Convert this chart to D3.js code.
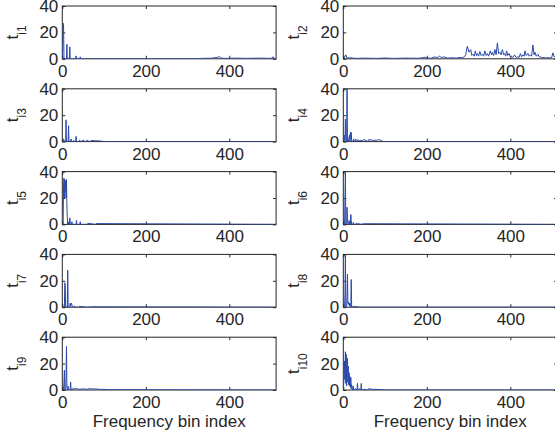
<!DOCTYPE html>
<html>
<head>
<meta charset="utf-8">
<script src="https://d3js.org/d3.v7.min.js"></script>
<style>
  body { margin: 0; background: #fff; }
  text { font-family: "Liberation Sans", Arial, Helvetica, sans-serif; fill: #262626; }
</style>
</head>
<body>
<script>
// Spectra for the 10 components, stored as (bin, value) points that the line passes through
var t1Bins = [0,1,2,3,4,10,11,12,17,18,19,32,33,34,42,43,44,300,360,368,372,375,378,382,390,420,440,470,500,505,508,511];
var t1Vals = [0,10,27,26,0,0,11,0,0,9,0,0,2.2,0,0,1.5,0,0,0.5,1,0.8,2,1,0.5,0.3,0.5,0.3,0.5,0.3,1.5,0,0];

var t2Bins = [0,3,6,9,15,30,50,80,100,120,150,180,190,195,200,210,220,225,230,235,240,250,260,270,280,285,290,293,297,301,305,308,311,314,316,319,321,324,327,330,333,336,339,342,345,348,352,355,357,360,363,366,369,372,375,378,381,384,386,389,391,394,397,400,402,406,410,414,418,421,424,427,430,433,435,438,442,445,448,451,454,457,459,462,466,469,472,476,482,486,490,495,499,502,505,508,511];
var t2Vals = [0.5,1,3,0.5,0.8,0.3,0.5,0.3,0.6,0.3,0.5,0.4,0.8,1.2,0.6,0.4,1.5,0.8,2,1,1.5,0.5,0.8,0.5,1,0.8,1.5,3,9.5,5,7,2.5,3.5,2,6,2.5,4,2,5.5,2.5,3.5,2,6,2.5,4,2,6,3,5,2.5,7,3,12,4,5,3,7,3,4,2,6,2.5,4,1.5,2,1,3,1,1.5,1,4,1.5,3,2,6,2.5,4,2,3,2,10.5,3,5,2,3.5,1.5,1.5,0.8,1,0.5,1,0.5,1,4.5,1.5,2,0.5];

var t3Bins = [0,3,5,8,9,10,14,15,16,20,21,22,26,27,28,32,33,34,40,41,45,50,55,60,65,70,80,90,100,511];
var t3Vals = [0,2,0,0,16.5,0,0,12,0,0,2,0,0,1,0,0,4,0,0,1,0,1,0,1,0,0.8,0.6,0.5,0,0];

var t4Bins = [0,2,4,5,6,8,9,10,12,15,16,17,18,19,20,22,25,26,30,31,35,36,40,45,50,60,61,70,80,85,90,95,511];
var t4Vals = [0,5,0,17,3,0,42,0,0,5,0,7,2,7,0,0,2,0,2,0,1.5,0,1,0.5,1.5,0,1.5,1,1,1.5,1,0,0];

var t5Bins = [0,2,3,4,5,6,7,8,9,10,11,12,13,14,15,17,18,19,22,23,24,33,34,35,42,43,44,60,61,80,81,511];
var t5Vals = [0,0,30,35,20,34,25,33,20,34,15,5,0,2,0,0,5,0,0,2,0,0,3,0,0,2,0,0,0.8,0,0.6,0];

var t6Bins = [0,3,4,5,6,8,9,10,11,13,14,15,17,18,19,20,23,24,25,30,31,35,36,40,50,511];
var t6Vals = [0,0,20,39,0,0,13,5,0,0,3,0,0,7.5,3,0,0,1.5,0,0,1,0,0.8,0,0.5,0];

var t7Bins = [0,5,6,7,8,10,12,13,14,16,18,19,20,22,23,24,28,29,30,40,41,50,60,70,511];
var t7Vals = [0,0,18.5,17,0,0,0,28,0,0,0,3,1,3,2,0,0,1,0,0,0.6,0.4,0,0.3,0];

var t8Bins = [0,3,4,5,6,8,9,10,11,12,13,14,15,16,17,18,19,20,22,25,26,30,40,511];
var t8Vals = [0,0,10,42,0,0,8,25,3,4,2,3,1,3,0,0,21,0,0,1,0,0.5,0,0];

var t9Bins = [0,3,4,5,6,8,9,10,11,13,14,15,19,20,21,25,26,30,35,40,50,60,65,70,80,90,100,110,511];
var t9Vals = [0,0,6,15,0,0,10,33,2,0,3,0,0,6,0,0,1.5,0.8,1,0.5,0.8,0.5,1.2,0.8,0.8,0.5,0.5,0.2,0];

var t10Bins = [0,2,3,4,5,6,7,8,9,10,11,12,13,14,15,16,17,18,19,20,22,23,24,25,28,33,34,35,38,42,43,44,50,60,61,70,80,90,100,511];
var t10Vals = [0,10,22,8,29,5,27,3,20,24,6,18,4,13,3,10,2,9.5,1,4,0,1,3,0,1,0,5,0,1,0,5,0,0.5,0,1,0.5,0.5,0.3,0,0];

var panelSubs = ["1","2","3","4","5","6","7","8","9","10"];
var panelBins = [t1Bins,t2Bins,t3Bins,t4Bins,t5Bins,t6Bins,t7Bins,t8Bins,t9Bins,t10Bins];
var panelVals = [t1Vals,t2Vals,t3Vals,t4Vals,t5Vals,t6Vals,t7Vals,t8Vals,t9Vals,t10Vals];

var xTicks = [0, 200, 400];
var yTicks = [0, 20, 40];
var xLabel = "Frequency bin index";

var svgWidth = 555;
var svgHeight = 438;

// axes layout (matlab subplot 5x2)
var colLeft = [62.3, 343.3];
var axWidth = 213.8;
var rowTop0 = 6;
var rowStep = 82.8;
var axHeight = 52.8;
var lineColor = "#2a48aa";
var boxColor = "#262626";

var svg = d3.select("body")
  .append("svg")
  .attr("width", svgWidth)
  .attr("height", svgHeight);

svg.append("rect")
  .attr("width", svgWidth)
  .attr("height", svgHeight)
  .attr("fill", "#fff");

var xScale = d3.scaleLinear().domain([0, 512]).range([0, axWidth]);
var yScale = d3.scaleLinear().domain([0, 40]).range([axHeight, 0]);

var line = d3.line()
  .x(d => xScale(d[0]))
  .y(d => yScale(d[1]));

panelSubs.forEach(function(sub, i) {
  var col = i % 2;
  var row = Math.floor(i / 2);
  var left = colLeft[col];
  var top = rowTop0 + row * rowStep;

  var g = svg.append("g")
    .attr("transform", `translate(${left}, ${top})`);

  // clip so the tall spikes stop at the top of the box
  g.append("clipPath")
    .attr("id", "clip" + i)
    .append("rect")
    .attr("width", axWidth)
    .attr("height", axHeight);

  // box
  g.append("rect")
    .attr("width", axWidth)
    .attr("height", axHeight)
    .attr("fill", "none")
    .attr("stroke", boxColor)
    .attr("stroke-width", 1);

  // inward ticks on all four sides
  var xAxisB = d3.axisBottom(xScale).tickValues(xTicks).tickSizeInner(-3).tickSizeOuter(0);
  var xAxisT = d3.axisTop(xScale).tickValues(xTicks).tickSizeInner(-3).tickSizeOuter(0).tickFormat("");
  var yAxisL = d3.axisLeft(yScale).tickValues(yTicks).tickSizeInner(-3).tickSizeOuter(0);
  var yAxisR = d3.axisRight(yScale).tickValues(yTicks).tickSizeInner(-3).tickSizeOuter(0).tickFormat("");

  var gxb = g.append("g").attr("transform", `translate(0, ${axHeight})`).call(xAxisB);
  g.append("g").call(xAxisT);
  var gyl = g.append("g").call(yAxisL);
  g.append("g").attr("transform", `translate(${axWidth}, 0)`).call(yAxisR);

  g.selectAll(".domain").remove();
  g.selectAll(".tick line").attr("stroke", boxColor);
  gxb.selectAll("text")
    .style("font-size", "17px")
    .attr("fill", boxColor)
    .attr("dy", "0.71em")
    .attr("y", 6);
  gyl.selectAll("text")
    .style("font-size", "17px")
    .attr("fill", boxColor)
    .attr("x", -4);

  // spectrum
  var pts = panelBins[i].map((b, k) => [b, panelVals[i][k]]);
  g.append("path")
    .datum(pts)
    .attr("clip-path", `url(#clip${i})`)
    .attr("fill", "none")
    .attr("stroke", lineColor)
    .attr("stroke-width", 1)
    .attr("d", line);

  // y label t_{i#}
  var lab = g.append("text")
    .attr("transform", `translate(-44, ${axHeight / 2}) rotate(-90)`)
    .attr("text-anchor", "middle")
    .style("font-size", "17px");
  lab.append("tspan").text("t");
  lab.append("tspan").attr("dy", 8).style("font-size", "12px").text("i" + sub);

  // x label on the bottom row
  if (row === 4) {
    g.append("text")
      .attr("x", axWidth / 2)
      .attr("y", axHeight + 37)
      .attr("text-anchor", "middle")
      .style("font-size", "17px")
      .text(xLabel);
  }
});
</script>
</body>
</html>
